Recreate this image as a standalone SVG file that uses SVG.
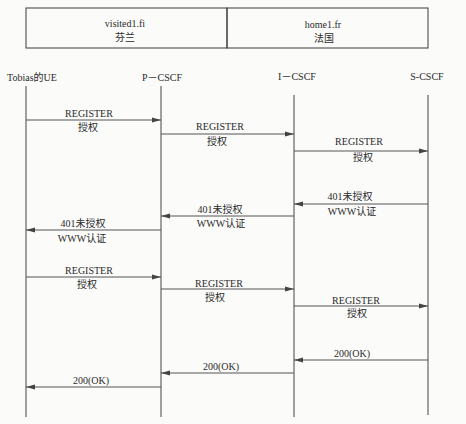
<svg xmlns="http://www.w3.org/2000/svg" width="466" height="424" viewBox="0 0 466 424">
<style>
text{font-family:"Liberation Serif","Noto Sans CJK SC",serif;font-size:10px;fill:#2a2a2a;text-anchor:middle}
.box{fill:none;stroke:#3a3a3a;stroke-width:1}
.life{stroke:#444;stroke-width:1}
.msg{stroke:#555;stroke-width:1;fill:none;marker-end:url(#ah)}
</style>
<defs>
<marker id="ah" markerUnits="userSpaceOnUse" markerWidth="9" markerHeight="6" refX="9" refY="3" orient="auto">
<path d="M0,0.5 L9,3 L0,5.5 z" fill="#444"/>
</marker>
</defs>
<rect width="466" height="424" fill="#fbfbfa"/>
<g id="visited-domain">
<rect class="box" x="26" y="8" width="201" height="40"/>
<text x="125" y="27">visited1.fi</text>
<text x="125" y="41">芬兰</text>
</g>
<g id="home-domain">
<rect class="box" x="227" y="8" width="201" height="40"/>
<text x="323" y="28">home1.fr</text>
<text x="324" y="42">法国</text>
</g>
<g id="ue">
<text x="32" y="81">Tobias的UE</text>
<line class="life" x1="26" y1="86" x2="26" y2="417"/>
</g>
<g id="pcscf">
<text x="162" y="81">P－CSCF</text>
<line class="life" x1="161" y1="86" x2="161" y2="417"/>
</g>
<g id="icscf">
<text x="297" y="80">I－CSCF</text>
<line class="life" x1="294" y1="95" x2="294" y2="417"/>
</g>
<g id="scscf">
<text x="427" y="80">S-CSCF</text>
<line class="life" x1="428" y1="95" x2="428" y2="415"/>
</g>
<g id="connectors">
<line class="msg" x1="26" y1="120" x2="161" y2="120"/>
<text x="89" y="117">REGISTER</text>
<text x="88" y="131">授权</text>
<line class="msg" x1="161" y1="134" x2="294" y2="134"/>
<text x="220" y="130">REGISTER</text>
<text x="217" y="145">授权</text>
<line class="msg" x1="294" y1="151" x2="428" y2="151"/>
<text x="359" y="145">REGISTER</text>
<text x="363" y="161">授权</text>
<line class="msg" x1="428" y1="204" x2="294" y2="204"/>
<text x="350" y="200">401未授权</text>
<text x="352" y="215">WWW认证</text>
<line class="msg" x1="294" y1="216" x2="161" y2="216"/>
<text x="220" y="213">401未授权</text>
<text x="221" y="227">WWW认证</text>
<line class="msg" x1="161" y1="230" x2="26" y2="230"/>
<text x="83" y="227">401未授权</text>
<text x="82" y="242">WWW认证</text>
<line class="msg" x1="26" y1="277" x2="161" y2="277"/>
<text x="89" y="274">REGISTER</text>
<text x="87" y="288">授权</text>
<line class="msg" x1="161" y1="289" x2="294" y2="289"/>
<text x="219" y="287">REGISTER</text>
<text x="215" y="301">授权</text>
<line class="msg" x1="294" y1="306" x2="428" y2="306"/>
<text x="356" y="304">REGISTER</text>
<text x="357" y="317">授权</text>
<line class="msg" x1="428" y1="360" x2="294" y2="360"/>
<text x="352" y="357">200(OK)</text>
<line class="msg" x1="294" y1="373" x2="161" y2="373"/>
<text x="221" y="370">200(OK)</text>
<line class="msg" x1="161" y1="387" x2="26" y2="387"/>
<text x="91" y="384">200(OK)</text>
</g>
</svg>
